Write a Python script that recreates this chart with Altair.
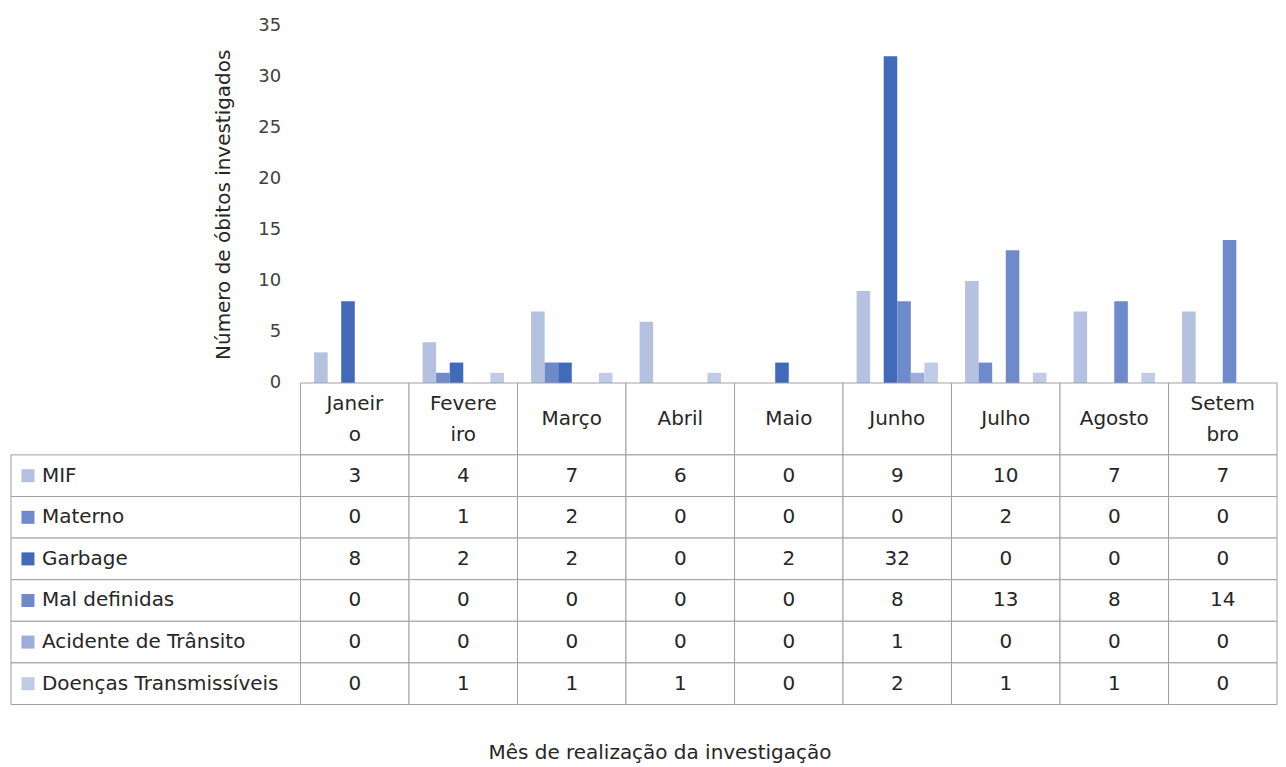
import altair as alt
import pandas as pd

months = ["Janeiro", "Fevereiro", "Março", "Abril", "Maio", "Junho", "Julho", "Agosto", "Setembro"]
header_labels = ["Janeir\no", "Fevere\niro", "Março", "Abril", "Maio", "Junho", "Julho", "Agosto", "Setem\nbro"]
series = ["MIF", "Materno", "Garbage", "Mal definidas", "Acidente de Trânsito", "Doenças Transmissíveis"]
colors = ["#b4c1e1", "#6f8acb", "#416bba", "#6f8acb", "#9eacdc", "#c0cbe8"]

mif = [3, 4, 7, 6, 0, 9, 10, 7, 7]
materno = [0, 1, 2, 0, 0, 0, 2, 0, 0]
garbage = [8, 2, 2, 0, 2, 32, 0, 0, 0]
mal_definidas = [0, 0, 0, 0, 0, 8, 13, 8, 14]
acidente = [0, 0, 0, 0, 0, 1, 0, 0, 0]
doencas = [0, 1, 1, 1, 0, 2, 1, 1, 0]

y_ticks = [0, 5, 10, 15, 20, 25, 30, 35]

rows = []
for s, vals in zip(series, [mif, materno, garbage, mal_definidas, acidente, doencas]):
    for m, v in zip(months, vals):
        rows.append({"mes": m, "serie": s, "valor": v})
df = pd.DataFrame(rows)
hdr_df = pd.DataFrame({"mes": months, "rotulo": header_labels})
lab_df = pd.DataFrame({"serie": series})

FONT = "DejaVu Sans"
TXT = "#262626"
AX = "#404040"
BORDER = "#a0a0a0"
W = 978
TS = 20

xscale = alt.Scale(domain=months, paddingInner=0, paddingOuter=0)
color_scale = alt.Scale(domain=series, range=colors)

bars = alt.Chart(df).mark_bar().encode(
    x=alt.X("mes:N", scale=xscale, axis=None, sort=months),
    xOffset=alt.XOffset("serie:N", scale=alt.Scale(domain=series, paddingInner=0, paddingOuter=1)),
    y=alt.Y(
        "valor:Q",
        scale=alt.Scale(domain=[0, 35], nice=False),
        axis=alt.Axis(
            values=y_ticks, title="Número de óbitos investigados", grid=False, domain=False,
            ticks=False, labelPadding=20, titlePadding=24, labelFontSize=18, titleFontSize=20,
            labelColor=AX, titleColor=TXT, labelFont=FONT, titleFont=FONT, titleFontWeight="normal",
        ),
    ),
    color=alt.Color("serie:N", scale=color_scale, legend=None),
).properties(width=W, height=358)

hbase = alt.Chart(hdr_df).encode(x=alt.X("mes:N", scale=xscale, axis=None, sort=months))
hrect = hbase.mark_rect(fill="white", stroke=BORDER, strokeWidth=1).encode(
    y=alt.value(0), y2=alt.value(72)
)
htext1 = hbase.mark_text(
    fontSize=TS, font=FONT, color=TXT, baseline="middle"
).encode(text="rotulo:N", y=alt.value(36)).transform_filter("indexof(datum.rotulo, '\\n') < 0")
htext2 = hbase.mark_text(
    lineBreak="\n", fontSize=TS, font=FONT, color=TXT, lineHeight=31, baseline="middle"
).encode(text="rotulo:N", y=alt.value(21)).transform_filter("indexof(datum.rotulo, '\\n') >= 0")
header = alt.layer(hrect, htext1, htext2).properties(width=W, height=72)

ybody = alt.Scale(domain=series, paddingInner=0, paddingOuter=0)
bbase = alt.Chart(df).encode(y=alt.Y("serie:N", scale=ybody, axis=None, sort=series))
cells = bbase.mark_rect(fill="white", stroke=BORDER, strokeWidth=1).encode(
    x=alt.X("mes:N", scale=xscale, axis=None, sort=months)
)
vals = bbase.mark_text(fontSize=TS, font=FONT, color=TXT).encode(
    x=alt.X("mes:N", scale=xscale, axis=None, sort=months), text="valor:Q"
)
lbase = alt.Chart(lab_df).encode(y=alt.Y("serie:N", scale=ybody, axis=None, sort=series))
lrect = lbase.mark_rect(fill="white", stroke=BORDER, strokeWidth=1).encode(
    x=alt.value(-290), x2=alt.value(0)
)
lsq = lbase.mark_square(size=170, opacity=1).encode(
    x=alt.value(-273), color=alt.Color("serie:N", scale=color_scale, legend=None)
)
ltxt = lbase.mark_text(align="left", fontSize=TS, font=FONT, color=TXT).encode(
    x=alt.value(-259), text="serie:N"
)
body = alt.layer(lrect, cells, lsq, ltxt, vals).properties(width=W, height=250)

chart = alt.vconcat(bars, header, body, spacing=0, bounds="flush").resolve_scale(
    x="independent", y="independent"
).properties(
    title=alt.TitleParams(
        "Mês de realização da investigação", orient="bottom", anchor="middle", offset=38,
        fontSize=20, font=FONT, fontWeight="normal", color=TXT, dx=16,
    ),
    padding={"left": 2, "top": 7, "right": 0, "bottom": 0},
).configure_view(stroke="transparent")

chart.save("out.html", embed_options={"renderer": "svg", "actions": False})
